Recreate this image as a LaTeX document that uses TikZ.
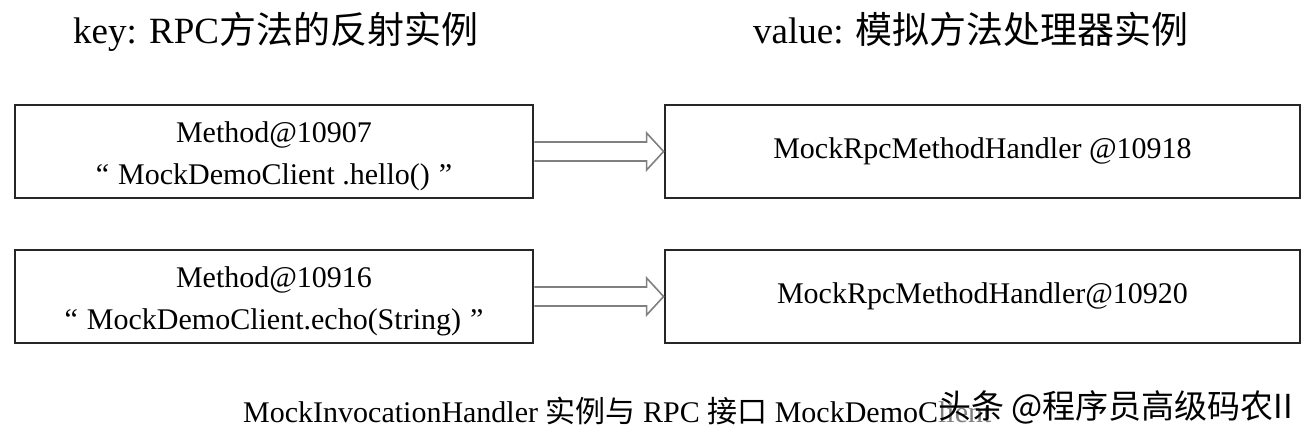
\documentclass[tikz,border=0pt]{standalone}
\usepackage{fontspec}
\setmainfont{Liberation Serif}
\newfontfamily\cjk{Noto Sans CJK SC}
\usetikzlibrary{calc}
\begin{document}
\begin{tikzpicture}[x=1pt,y=-1pt,
  box/.style={draw=black!85, line width=2.8pt, minimum height=93pt, inner sep=0pt, align=center, font=\fontsize{30}{42}\selectfont},
  hollow/.style={draw=black!50, line width=1.6pt, line join=miter},
  title/.style={anchor=base west, inner sep=0pt, font=\fontsize{37}{40}\selectfont},
  caption/.style={anchor=base west, inner sep=0pt, font=\fontsize{30}{34}\selectfont}]
\useasboundingbox (0,0) rectangle (1312,439);
\node[title] (tk) at (73,43) {key: RPC{\cjk 方法的反射实例}};
\node[title] (tv) at (753,43) {value: {\cjk 模拟方法处理器实例}};

\node[box, minimum width=518pt] (k1) at (274,151.5) {\rule{0pt}{31pt}Method@10907\\“\hspace{0.3em}MockDemoClient .hello()\hspace{0.3em}”};
\node[box, minimum width=635pt] (v1) at (982.5,151.5) {MockRpcMethodHandler @10918};
\node[box, minimum width=518pt] (k2) at (274,296.5) {\rule{0pt}{31pt}Method@10916\\“\hspace{0.3em}MockDemoClient.echo(String)\hspace{0.3em}”};
\node[box, minimum width=635pt] (v2) at (982.5,296.5) {MockRpcMethodHandler@10920};

\foreach \a/\b in {k1/v1,k2/v2}{
  \draw[hollow] ([yshift=9.5pt]\a.east) -- ([xshift=-17pt,yshift=9.5pt]\b.west)
    -- ([xshift=-17pt,yshift=18.5pt]\b.west) -- (\b.west)
    -- ([xshift=-17pt,yshift=-18.5pt]\b.west) -- ([xshift=-17pt,yshift=-9.5pt]\b.west)
    -- ([yshift=-9.5pt]\a.east);
}

\node[caption] (cap) at (243,422) {MockInvocationHandler\ {\cjk 实例与}\ RPC\ {\cjk 接口}\ MockDemoClient};
\node[anchor=base west, inner sep=1pt, fill=white, fill opacity=0.5, text opacity=1, font=\cjk\fontsize{33}{36}\selectfont] (wm) at (937,418) {头条 @程序员高级码农II};
\end{tikzpicture}
\end{document}
